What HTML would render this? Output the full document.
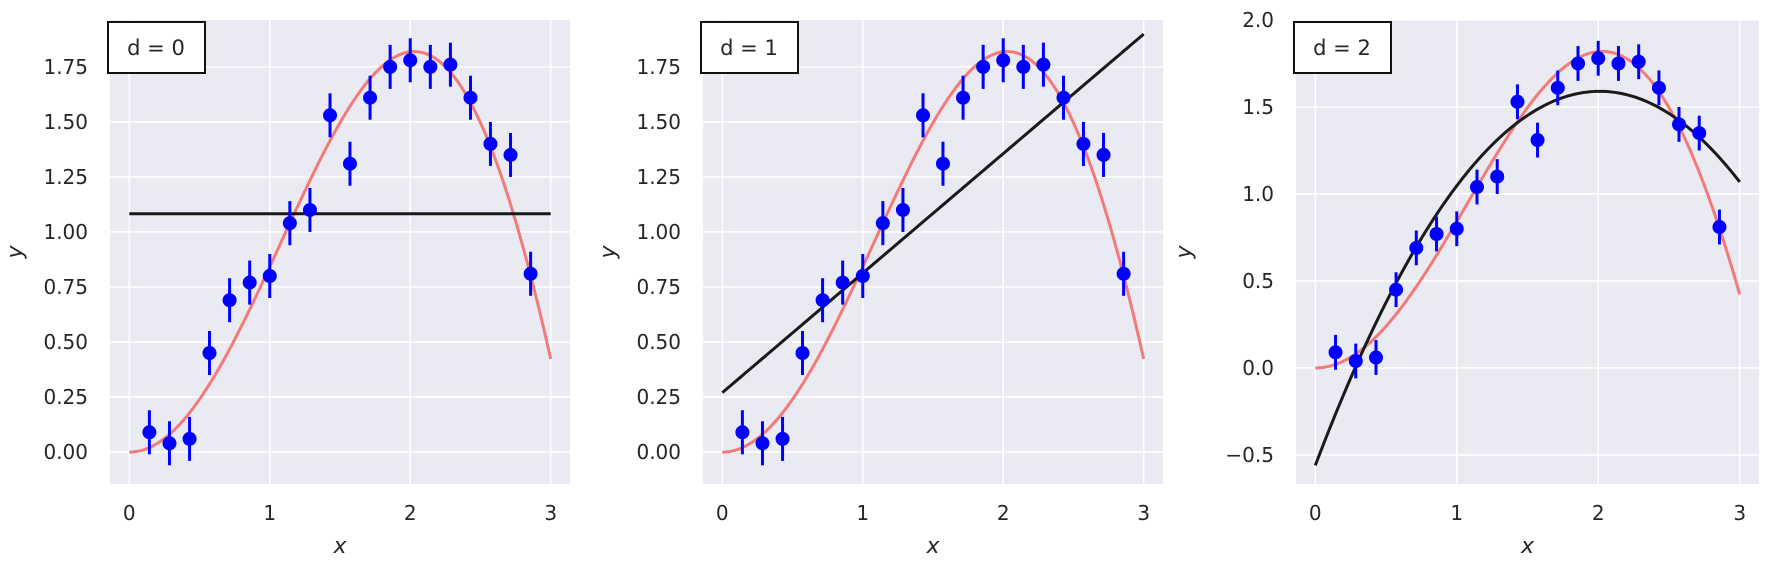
<!DOCTYPE html>
<html><head><meta charset="utf-8"><style>
html,body{margin:0;padding:0;background:#fff;}
svg{display:block;font-family:"DejaVu Sans","Liberation Sans",sans-serif;}
</style></head><body>
<svg id="fig" width="1766" height="565" viewBox="0 0 1766 565" xmlns="http://www.w3.org/2000/svg"></svg>
<script>
const xData = [0.143,0.286,0.429,0.571,0.714,0.857,1.0,1.143,1.286,1.429,1.571,1.714,1.857,2.0,2.143,2.286,2.429,2.571,2.714,2.857];
const yData = [0.09,0.04,0.06,0.45,0.69,0.77,0.80,1.04,1.10,1.53,1.31,1.61,1.75,1.78,1.75,1.76,1.61,1.40,1.35,0.81];
const yErr = [0.1,0.1,0.1,0.1,0.1,0.1,0.1,0.1,0.1,0.1,0.1,0.1,0.1,0.1,0.1,0.1,0.1,0.1,0.1,0.1];
const fit0 = [1.083];
const fit1 = [0.27, 0.543];
const fit2 = [-0.56, 2.139, -0.532];
const xTicks = [0,1,2,3];
const yTicksA = [0,0.25,0.5,0.75,1.0,1.25,1.5,1.75];
const yTickLabelsA = ["0.00","0.25","0.50","0.75","1.00","1.25","1.50","1.75"];
const yTicksC = [-0.5,0,0.5,1.0,1.5,2.0];
const yTickLabelsC = ["\u22120.5","0.0","0.5","1.0","1.5","2.0"];
const degrees = ["0","1","2"];

const NS="http://www.w3.org/2000/svg";
const svg=document.getElementById('fig');
function mk(tag,attrs,parent){const e=document.createElementNS(NS,tag);for(const k in attrs)e.setAttribute(k,attrs[k]);(parent||svg).appendChild(e);return e;}
function truth(x){return x*Math.sin(x);}

const panels=[
 {fit:fit0,left:110,right:570,yMin:-0.145,yMax:1.963,ticks:yTicksA,labels:yTickLabelsA},
 {fit:fit1,left:703,right:1163,yMin:-0.145,yMax:1.963,ticks:yTicksA,labels:yTickLabelsA},
 {fit:fit2,left:1296,right:1759,yMin:-0.667,yMax:2.0,ticks:yTicksC,labels:yTickLabelsC}
];
const plotTop=20,plotBottom=484;
panels.forEach((p,pi)=>{
  const g=mk('g',{});
  
  
  const x0=p.left+19.3, xs=(p.right-19.3-x0)/3.0;
  const X=v=>x0+v*xs;
  const Y=v=>plotBottom-(v-p.yMin)/(p.yMax-p.yMin)*(plotBottom-plotTop);
  const bg=mk('rect',{x:p.left,y:plotTop,width:p.right-p.left,height:plotBottom-plotTop,fill:'#eaeaf2'},g);
  
  
  xTicks.forEach(t=>{
    const l=mk('line',{x1:X(t),x2:X(t),y1:plotTop,y2:plotBottom,stroke:'#fff','stroke-width':1.6},g);
    
    
    const tx=mk('text',{x:X(t),y:520,'font-size':20,fill:'#262626','text-anchor':'middle'},g);
    tx.textContent=t;
    
    
  });
  p.ticks.forEach((t,i)=>{
    const l=mk('line',{x1:p.left,x2:p.right,y1:Y(t),y2:Y(t),stroke:'#fff','stroke-width':1.6},g);
    
    
    const tx=mk('text',{x:p.left-22,y:Y(t)+7,'font-size':20,fill:'#262626','text-anchor':'end'},g);
    tx.textContent=p.labels[i];
    
    
  });
  const xl=mk('text',{x:(p.left+p.right)/2,y:553,'font-size':22,'font-style':'italic',fill:'#262626','text-anchor':'middle'},g);
  xl.textContent='x';
  
  
  const yx=p.left-(pi==2?105:88);
  const yl=mk('text',{x:yx,y:252,'font-size':22,'font-style':'italic',fill:'#262626','text-anchor':'middle',transform:`rotate(-90 ${yx} 252)`},g);
  yl.textContent='y';
  
  
  let d='';
  for(let i=0;i<=150;i++){const v=3*i/150;d+=(i?'L':'M')+X(v).toFixed(2)+','+Y(truth(v)).toFixed(2);}
  const tc=mk('path',{d:d,fill:'none',stroke:'#f47a7a','stroke-width':3},g);
  
  
  let d2='';
  for(let i=0;i<=150;i++){const v=3*i/150;let f=0;p.fit.forEach((c,k)=>f+=c*Math.pow(v,k));d2+=(i?'L':'M')+X(v).toFixed(2)+','+Y(f).toFixed(2);}
  const fc=mk('path',{d:d2,fill:'none',stroke:'#1a1a1a','stroke-width':3},g);
  
  
  xData.forEach((xv,i)=>{
    const eb=mk('line',{x1:X(xv),x2:X(xv),y1:Y(yData[i]-yErr[i]),y2:Y(yData[i]+yErr[i]),stroke:'#0000ff','stroke-width':3},g);
    
    
    const c=mk('circle',{cx:X(xv),cy:Y(yData[i]),r:7,fill:'#0000ff'},g);
    
    
  });
  const lg=mk('g',{},g);
  
  
  mk('rect',{x:p.left-2,y:22,width:97,height:51,fill:'#fff',stroke:'#111','stroke-width':2},lg);
  const lt=mk('text',{x:p.left+46,y:55,'font-size':21,fill:'#262626','text-anchor':'middle'},lg);
  lt.textContent='d = '+degrees[pi];
  
  
});
</script>
</body></html>
